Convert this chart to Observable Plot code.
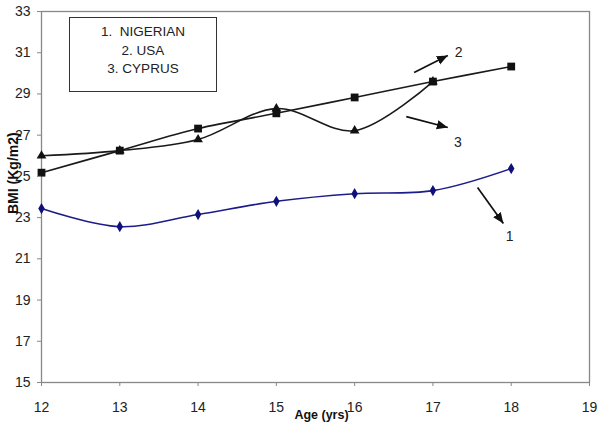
<!DOCTYPE html>
<html>
<head>
<meta charset="utf-8">
<script src="https://cdn.jsdelivr.net/npm/d3@7"></script>
<script src="https://cdn.jsdelivr.net/npm/@observablehq/plot@0.6"></script>
<style>
  html, body { margin: 0; padding: 0; background: #fff; }
  #wrap { position: relative; width: 600px; height: 435px; font-family: "Liberation Sans", Arial, sans-serif; }
  #legend {
    position: absolute; left: 69px; top: 17px; width: 148px; height: 75px;
    border: 1px solid #333; box-sizing: border-box; background: #fff;
    text-align: center; font-size: 13.5px; line-height: 18.5px; color: #222; padding-top: 5px;
  }
</style>
</head>
<body>
<div id="wrap"></div>
<script>
// Data
const ages = [12, 13, 14, 15, 16, 17, 18];
const nigerian = [23.44, 22.56, 23.15, 23.79, 24.16, 24.31, 25.38];
const usa = [25.18, 26.25, 27.32, 28.06, 28.83, 29.6, 30.33];
const cyprusAges = [12, 13, 14, 15, 16, 17];
const cyprus = [26.0, 26.25, 26.79, 28.29, 27.22, 29.6];
const legendLabels = ["1.  NIGERIAN", "2. USA", "3. CYPRUS"];
const xTicks = [12, 13, 14, 15, 16, 17, 18, 19];
const yTicks = [15, 17, 19, 21, 23, 25, 27, 29, 31, 33];
// Annotation arrows (data coords) and labels
const arrowLabels = ["2", "3", "1"];
const arrowX1 = [16.76, 16.66, 17.57];
const arrowY1 = [30.04, 27.9, 24.46];
const arrowX2 = [17.19, 17.19, 17.9];
const arrowY2 = [30.87, 27.37, 22.71];
const labelX = [17.33, 17.32, 17.98];
const labelY = [31.0, 26.64, 22.1];

const nigData = ages.map((a, i) => ({age: a, bmi: nigerian[i]}));
const usaData = ages.map((a, i) => ({age: a, bmi: usa[i]}));
const cypData = cyprusAges.map((a, i) => ({age: a, bmi: cyprus[i]}));
const arrows = arrowLabels.map((l, i) => ({label: l, x1: arrowX1[i], y1: arrowY1[i], x2: arrowX2[i], y2: arrowY2[i], lx: labelX[i], ly: labelY[i]}));

function filledArrow(color, context) {
  const m = d3.create("svg:marker")
    .attr("viewBox", "-10 -5 10 10")
    .attr("markerWidth", 11)
    .attr("markerHeight", 11)
    .attr("markerUnits", "userSpaceOnUse")
    .attr("refX", 0).attr("refY", 0)
    .attr("orient", "auto")
    .attr("fill", "#111")
    .attr("stroke", "none");
  m.append("path").attr("d", "M-10,-4.2L0,0L-10,4.2Z");
  return m.node();
}

const font = "Liberation Sans, Arial, sans-serif";
const fmt = d => String(d);
const chart = Plot.plot({
  width: 600,
  height: 435,
  marginLeft: 41,
  marginRight: 11,
  marginTop: 11,
  marginBottom: 53,
  style: {fontFamily: font, fontSize: "14px", color: "#222", background: "#fff"},
  x: {domain: [12, 19], label: null},
  y: {domain: [15, 33], label: null},
  marks: [
    Plot.frame({stroke: "#888", strokeWidth: 1.3}),
    Plot.line(usaData, {x: "age", y: "bmi", stroke: "#1a1a1a", strokeWidth: 1.6, curve: "catmull-rom"}),
    Plot.line(cypData, {x: "age", y: "bmi", stroke: "#1a1a1a", strokeWidth: 1.6, curve: "catmull-rom"}),
    Plot.line(nigData, {x: "age", y: "bmi", stroke: "#1c1c8a", strokeWidth: 1.6, curve: "catmull-rom"}),
    Plot.dot(cypData, {x: "age", y: "bmi", symbol: "triangle", fill: "#111", r: 3.6}),
    Plot.dot(usaData, {x: "age", y: "bmi", symbol: "square", fill: "#111", r: 4.4}),
    Plot.dot(nigData, {x: "age", y: "bmi", symbol: "diamond", fill: "#10107a", r: 3.4}),
    Plot.link(arrows, {x1: "x1", y1: "y1", x2: "x2", y2: "y2", stroke: "#111", strokeWidth: 1.7, markerEnd: filledArrow}),
    Plot.text(arrows, {x: "lx", y: "ly", text: "label", fontSize: 14, fill: "#222"}),
    Plot.axisX({ticks: xTicks, tickFormat: fmt, tickSize: 4, tickPadding: 16, stroke: "#888", fill: "#222", label: null}),
    Plot.axisY({ticks: yTicks, tickFormat: fmt, tickSize: 4, tickPadding: 7, stroke: "#888", fill: "#222", label: null}),
    Plot.text(["Age (yrs)"], {frameAnchor: "bottom", dx: 6, dy: 36, fontWeight: "bold", fontSize: 12.5, fill: "#111"}),
    Plot.text(["BMI (Kg/m2)"], {frameAnchor: "left", rotate: -90, dx: -28, dy: 17, fontWeight: "bold", fontSize: 14, fill: "#111"})
  ]
});

const wrap = document.getElementById("wrap");
wrap.appendChild(chart);
const leg = document.createElement("div");
leg.id = "legend";
leg.innerHTML = legendLabels.map(s => `<div>${s.replace(/  /g, "&nbsp; ")}</div>`).join("");
wrap.appendChild(leg);
</script>
</body>
</html>
